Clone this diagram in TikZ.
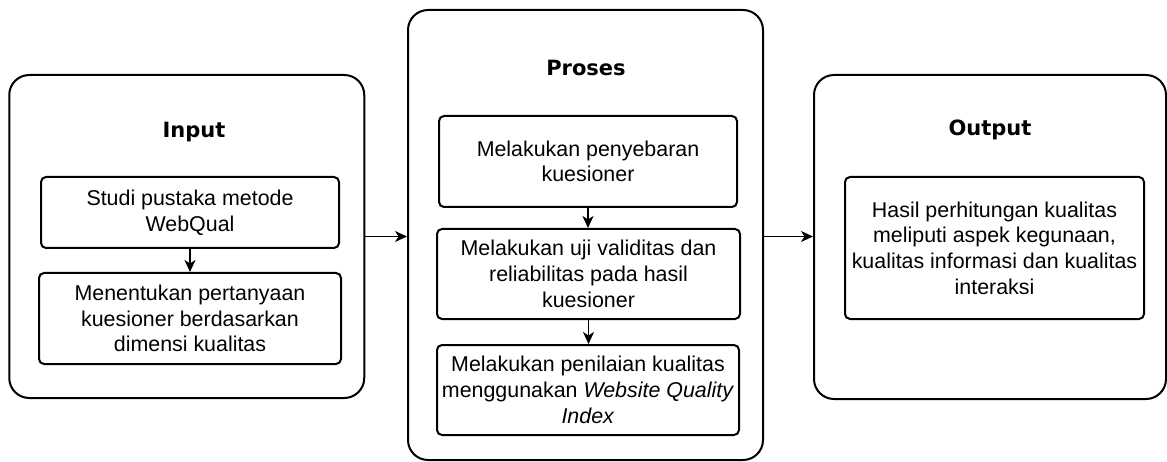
\documentclass[tikz,border=0pt]{standalone}
\usepackage{fontspec}
\setmainfont{Liberation Sans}
\newfontfamily\titlefont{DejaVu Sans}
\usetikzlibrary{arrows.meta}
\begin{document}
\begin{tikzpicture}[x=1pt,y=-1pt,
  outerbox/.style={draw, line width=2pt, rounded corners=20pt, inner sep=0pt},
  innerbox/.style={draw, line width=2pt, rounded corners=5pt, inner sep=0pt, align=center,
    font=\fontsize{21.4}{25.7}\selectfont},
  title/.style={anchor=base, inner sep=0pt, font=\titlefont\bfseries\fontsize{21}{25}\selectfont},
  arr/.style={line width=1.8pt, -{Stealth[length=12pt,width=11pt,inset=3.5pt]}}]
\useasboundingbox (0,0) rectangle (1167,462);
% outer containers
\node[outerbox, minimum width=355pt, minimum height=323pt] (input) at (186.75,236.5) {};
\node[outerbox, minimum width=355pt, minimum height=450pt] (proses) at (585.5,235) {};
\node[outerbox, minimum width=352pt, minimum height=324pt] (output) at (990,237) {};
% titles
\node[title] (tin) at (194,138) {Input};
\node[title] (tpr) at (586,75.5) {Proses};
\node[title] (tout) at (990,135.5) {Output};
% input boxes
\node[innerbox, minimum width=298pt, minimum height=71pt] (in1) at (190,212.5) {Studi pustaka metode\\WebQual};
\node[innerbox, minimum width=302pt, minimum height=91pt] (in2) at (190,318.5) {Menentukan pertanyaan\\kuesioner berdasarkan\\dimensi kualitas};
% proses boxes
\node[innerbox, minimum width=298pt, minimum height=91pt] (pa) at (588,161.5) {Melakukan penyebaran\\kuesioner};
\node[innerbox, minimum width=303pt, minimum height=90pt] (pb) at (588.5,274) {Melakukan uji validitas dan\\reliabilitas pada hasil\\kuesioner};
\node[innerbox, minimum width=302pt, minimum height=90pt] (pc) at (588,390) {Melakukan penilaian kualitas\\menggunakan \textit{Website Quality}\\\textit{Index}};
% output box
\node[innerbox, minimum width=299pt, minimum height=142pt] (out1) at (994.5,248) {Hasil perhitungan kualitas\\meliputi aspek kegunaan,\\kualitas informasi dan kualitas\\interaksi};
% connectors
\draw[arr] (in1.south) -- (in1.south |- in2.north);
\draw[arr] (pa.south) -- (pa.south |- pb.north);
\draw[arr] (pb.south) -- (pb.south |- pc.north);
\draw[arr] (input.east) -- (input.east -| proses.west);
\draw[arr] (proses.east |- input.east) -- (input.east -| output.west);
\end{tikzpicture}
\end{document}
